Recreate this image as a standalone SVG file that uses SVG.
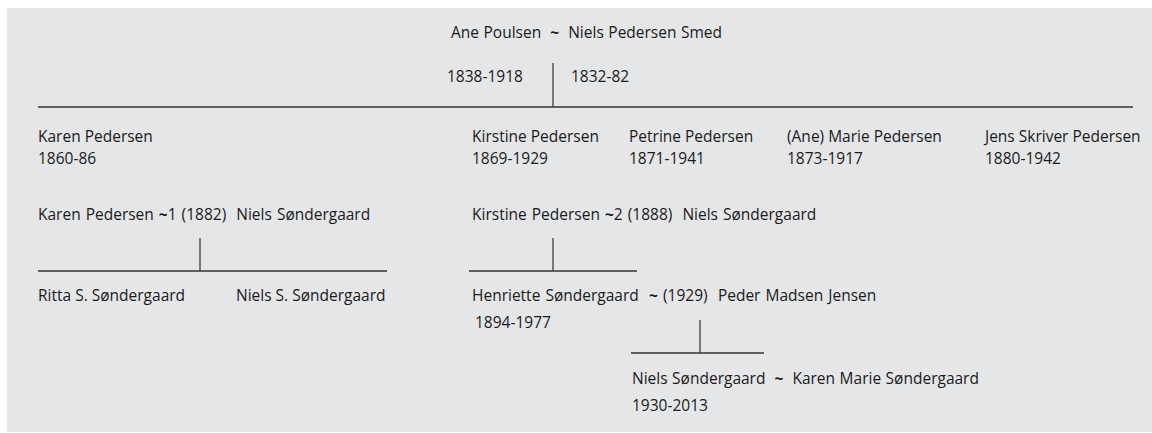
<svg xmlns="http://www.w3.org/2000/svg" width="1152" height="433" viewBox="0 0 1152 433" xml:space="preserve">
<style>
text{font-family:"Open Sans","Liberation Sans",sans-serif;font-size:15.5px;fill:#1a1a1a;white-space:pre}
.t{font-weight:bold}
.w{word-spacing:1px}
.wh{word-spacing:0.5px}
.w2{word-spacing:1.1px}
.l{stroke:#333;stroke-width:1.3;fill:none}
.v{stroke:#555;stroke-width:1.5;fill:none}
</style>
<rect x="0" y="0" width="1152" height="433" fill="#ffffff"/>
<rect x="7" y="8" width="1145" height="424" fill="#e5e6e8"/>
<g id="connectors">
<line class="v" x1="553" y1="63" x2="553" y2="107"/>
<line class="l" x1="38" y1="107" x2="1133" y2="107"/>
<line class="v" x1="200" y1="238" x2="200" y2="271"/>
<line class="l" x1="38" y1="271" x2="387" y2="271"/>
<line class="v" x1="553" y1="238" x2="553" y2="271"/>
<line class="l" x1="469" y1="271" x2="637" y2="271"/>
<line class="v" x1="700" y1="320" x2="700" y2="353"/>
<line class="l" x1="631" y1="353" x2="764" y2="353"/>
</g>
<g id="parents">
<text class="wh" x="451" y="38">Ane Poulsen  <tspan class="t">~</tspan>  Niels Pedersen Smed</text>
<text x="447" y="82">1838-1918</text>
<text x="571" y="82">1832-82</text>
</g>
<g id="karen">
<text x="38" y="142">Karen Pedersen</text>
<text x="38" y="164">1860-86</text>
</g>
<g id="kirstine">
<text x="472" y="142">Kirstine Pedersen</text>
<text x="472" y="164">1869-1929</text>
</g>
<g id="petrine">
<text x="629" y="142">Petrine Pedersen</text>
<text x="629" y="164">1871-1941</text>
</g>
<g id="marie">
<text x="787" y="142">(Ane) Marie Pedersen</text>
<text x="787" y="164">1873-1917</text>
</g>
<g id="jens">
<text x="985" y="142">Jens Skriver Pedersen</text>
<text x="985" y="164">1880-1942</text>
</g>
<g id="marriage1">
<text class="w" x="38" y="220">Karen Pedersen <tspan class="t">~</tspan>1 (1882)  Niels Søndergaard</text>
</g>
<g id="marriage2">
<text class="w" x="472" y="220">Kirstine Pedersen <tspan class="t">~</tspan>2 (1888)  Niels Søndergaard</text>
</g>
<g id="ritta">
<text x="38" y="301">Ritta S. Søndergaard</text>
</g>
<g id="nielsS">
<text x="236" y="301">Niels S. Søndergaard</text>
</g>
<g id="henriette">
<text class="w2" x="472" y="301">Henriette Søndergaard  <tspan class="t">~</tspan> (1929)  Peder Madsen Jensen</text>
<text x="475" y="328">1894-1977</text>
</g>
<g id="niels">
<text class="wh" x="632" y="384">Niels Søndergaard  <tspan class="t">~</tspan>  Karen Marie Søndergaard</text>
<text x="632" y="411">1930-2013</text>
</g>
</svg>
